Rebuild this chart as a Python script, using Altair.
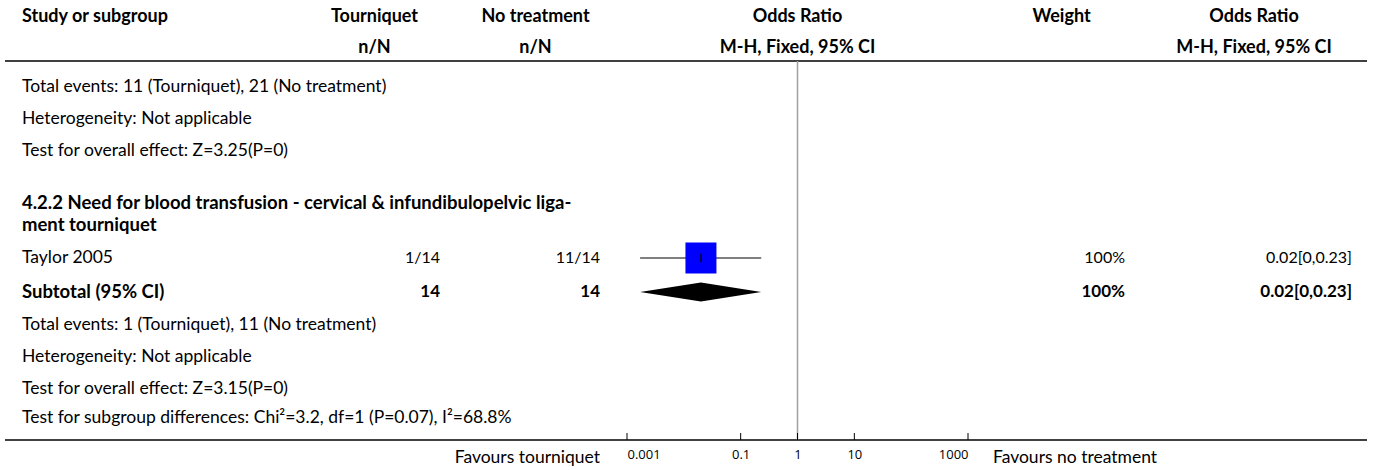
import altair as alt
import pandas as pd

# ---- study data -------------------------------------------------------
studies = ["Taylor 2005"]
tq_events = [1]
tq_total = [14]
nt_events = [11]
nt_total = [14]
odds_ratio = [0.02]
ci_lower = [0.0017]
ci_upper = [0.23]
weight_pct = [100]

# pooled subgroup estimate
sub_label = "Subtotal (95% CI)"
sub_tq_total = 14
sub_nt_total = 14
sub_or = 0.02
sub_lower = 0.0017
sub_upper = 0.23
sub_weight = 100

# summary / heading lines
prev_summary = [
    "Total events: 11 (Tourniquet), 21 (No treatment)",
    "Heterogeneity: Not applicable",
    "Test for overall effect: Z=3.25(P=0)",
]
subgroup_title = [
    "4.2.2 Need for blood transfusion - cervical & infundibulopelvic liga-",
    "ment tourniquet",
]
sub_summary = [
    "Total events: 1 (Tourniquet), 11 (No treatment)",
    "Heterogeneity: Not applicable",
    "Test for overall effect: Z=3.15(P=0)",
    "Test for subgroup differences: Chi\u00b2=3.2, df=1 (P=0.07), I\u00b2=68.8%",
]

tick_values = [0.001, 0.1, 1, 10, 1000]
favours_left = "Favours tourniquet"
favours_right = "Favours no treatment"

header_top = ["Study or subgroup", "Tourniquet", "No treatment", "Odds Ratio", "Weight", "Odds Ratio"]
header_bottom = ["", "n/N", "n/N", "M-H, Fixed, 95% CI", "", "M-H, Fixed, 95% CI"]

# ---- layout (pixels) --------------------------------------------------
W, H = 1375, 470
BODY = "Lato"
FS = 17.5        # regular body text
FS_BOLD = 18.5   # bold body text
FS_HEAD = 18     # column headers
FS_NUM = 16      # numeric columns
prev_summary_y = [87, 119, 151]
title_y = [203, 225]
study_y = [258]
subtotal_y = 292
sub_summary_y = [325, 357, 389, 418]
header_y = [17, 48]
header_x = [22, 374.5, 535.5, 797.5, 1061.5, 1254]
col_tq_x, col_nt_x, col_w_x, col_ci_x = 440, 600, 1125, 1352
rule_top, rule_bottom = 61, 440
forest_range = [627, 968]
square_side = 31
diamond_half = 9.5


def fmt_ci(v):
    s = f"{v:.2f}".rstrip("0").rstrip(".")
    return s if s else "0"


def ci_text(est, lo, hi):
    return f"{est:.2f}[{fmt_ci(lo)},{fmt_ci(hi)}]"


X_SCALE = alt.Scale(type="log", domain=[tick_values[0], tick_values[-1]], range=forest_range)
X_AXIS = alt.Axis(
    values=tick_values, format="~g", domain=False, ticks=False, grid=False,
    labelFlush=True, labelFont="Open Sans", labelFontSize=13, labelColor="black",
    labelPadding=8, offset=rule_bottom - H, title=None,
)


def xq(field):
    return alt.X(f"{field}:Q", scale=X_SCALE, axis=X_AXIS)


YP = alt.Y("y:Q", scale=None)


def text_layer(df, field, x, align="left", bold=False, font=BODY, size=None):
    if size is None:
        size = FS_BOLD if bold else FS
    return alt.Chart(df).mark_text(
        align=align, baseline="middle", font=font, fontSize=size,
        fontWeight="bold" if bold else "normal", color="black",
    ).encode(x=alt.value(x), y=YP, text=f"{field}:N")


# ---- tables ------------------------------------------------------------
regular_left = pd.DataFrame({
    "label": prev_summary + studies + sub_summary,
    "y": prev_summary_y + study_y + sub_summary_y,
})
bold_left = pd.DataFrame({
    "label": subgroup_title + [sub_label],
    "y": title_y + [subtotal_y],
})

study_df = pd.DataFrame({
    "y": study_y,
    "tq": [f"{e}/{n}" for e, n in zip(tq_events, tq_total)],
    "nt": [f"{e}/{n}" for e, n in zip(nt_events, nt_total)],
    "est": odds_ratio,
    "lo": ci_lower,
    "hi": ci_upper,
    "w": [f"{w}%" for w in weight_pct],
    "ci": [ci_text(e, l, h) for e, l, h in zip(odds_ratio, ci_lower, ci_upper)],
    "sq": [square_side ** 2 * w / 100 for w in weight_pct],
})
study_df["ytop"] = study_df["y"] - 4.5
study_df["ybot"] = study_df["y"] + 4.5

sub_df = pd.DataFrame({
    "y": [subtotal_y],
    "tq": [str(sub_tq_total)],
    "nt": [str(sub_nt_total)],
    "w": [f"{sub_weight}%"],
    "ci": [ci_text(sub_or, sub_lower, sub_upper)],
})

diamond_df = pd.DataFrame({
    "x": [sub_lower, sub_or, sub_upper],
    "y": [subtotal_y, subtotal_y - diamond_half, subtotal_y],
    "y2": [subtotal_y, subtotal_y + diamond_half, subtotal_y],
})

ticks_df = pd.DataFrame({"v": tick_values})
null_df = pd.DataFrame({"v": [1]})

layers = []

# header text
for i, (t, b) in enumerate(zip(header_top, header_bottom)):
    align = "left" if i == 0 else "center"
    layers.append(text_layer(pd.DataFrame({"t": [t], "y": [header_y[0]]}), "t", header_x[i], align, True, size=FS_HEAD))
    if b:
        layers.append(text_layer(pd.DataFrame({"t": [b], "y": [header_y[1]]}), "t", header_x[i], align, True, size=FS_HEAD))

# horizontal rules
base_rule = alt.Chart(null_df)
layers.append(base_rule.mark_rule(color="black", strokeWidth=1.5).encode(
    x=alt.value(5), x2=alt.value(1367), y=alt.value(rule_top)))
layers.append(base_rule.mark_rule(color="black", strokeWidth=1.5).encode(
    x=alt.value(5), x2=alt.value(1367), y=alt.value(rule_bottom)))

# line of no effect
layers.append(alt.Chart(null_df).mark_rule(color="#a0a0a0", strokeWidth=1.5).encode(
    x=xq("v"), y=alt.value(rule_top), y2=alt.value(rule_bottom)))

# axis ticks pointing upward
layers.append(alt.Chart(ticks_df).mark_rule(color="black", strokeWidth=1).encode(
    x=xq("v"), y=alt.value(rule_bottom - 7), y2=alt.value(rule_bottom)))

# left column text
layers.append(text_layer(regular_left, "label", 22))
layers.append(text_layer(bold_left, "label", 22, bold=True))

# numeric columns
layers.append(text_layer(study_df, "tq", col_tq_x, "right", size=FS_NUM))
layers.append(text_layer(study_df, "nt", col_nt_x, "right", size=FS_NUM))
layers.append(text_layer(study_df, "w", col_w_x, "right", size=FS_NUM))
layers.append(text_layer(study_df, "ci", col_ci_x, "right", size=FS_NUM))
layers.append(text_layer(sub_df, "tq", col_tq_x, "right", True, size=FS_NUM + 1))
layers.append(text_layer(sub_df, "nt", col_nt_x, "right", True, size=FS_NUM + 1))
layers.append(text_layer(sub_df, "w", col_w_x, "right", True, size=FS_NUM + 1))
layers.append(text_layer(sub_df, "ci", col_ci_x, "right", True, size=FS_NUM + 1))

# study confidence interval, weight square and point marker
layers.append(alt.Chart(study_df).mark_rule(color="black", strokeWidth=1).encode(
    x=xq("lo"), x2="hi:Q", y=YP))
layers.append(alt.Chart(study_df).mark_point(shape="square", filled=True, color="#0000ff", opacity=1).encode(
    x=xq("est"), y=YP, size=alt.Size("sq:Q", scale=None)))
layers.append(alt.Chart(study_df).mark_rule(color="#000033", strokeWidth=1.5).encode(
    x=xq("est"), y=alt.Y("ytop:Q", scale=None), y2="ybot:Q"))

# pooled diamond
layers.append(alt.Chart(diamond_df).mark_area(color="black", interpolate="linear").encode(
    x=xq("x"), y=alt.Y("y:Q", scale=None), y2="y2:Q"))

# favours labels
fav_df = pd.DataFrame({"t": [favours_left], "y": [458]})
fav_df2 = pd.DataFrame({"t": [favours_right], "y": [458]})
layers.append(text_layer(fav_df, "t", 600, "right"))
layers.append(text_layer(fav_df2, "t", 993, "left"))

chart = alt.layer(*layers).properties(
    width=W, height=H, padding=0, autosize=alt.AutoSizeParams(type="none"),
    background="white",
).configure_view(stroke=None)

chart.save("out.html", embed_options={"renderer": "svg", "actions": False})
